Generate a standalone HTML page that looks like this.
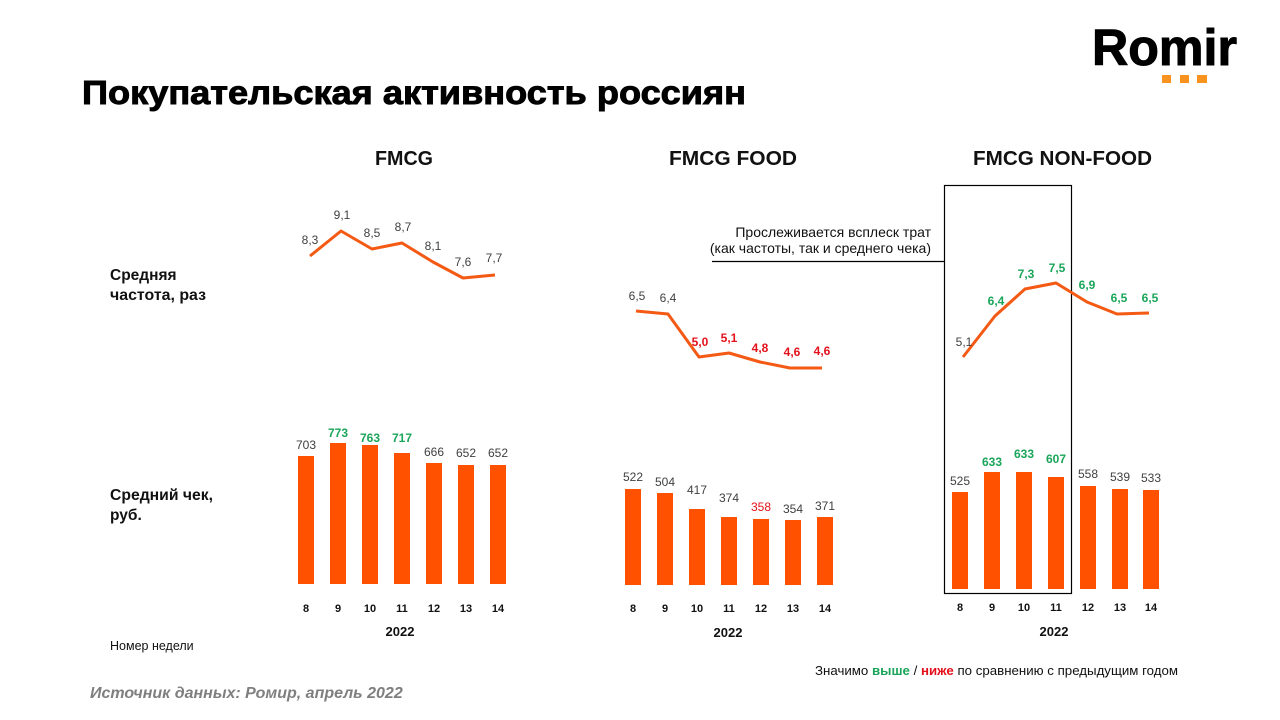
<!DOCTYPE html>
<html><head><meta charset="utf-8">
<style>
html,body{margin:0;padding:0;background:#fff;}
body{width:1280px;height:720px;overflow:hidden;position:relative;font-family:"Liberation Sans","Noto Sans CJK SC",sans-serif;}
svg{position:absolute;left:0;top:0;}
text{font-family:"Liberation Sans","Noto Sans CJK SC",sans-serif;}
.v{font-size:12px;fill:#404040;text-anchor:middle;}
.g{font-size:12px;fill:#1aa55a;font-weight:bold;text-anchor:middle;}
.r{font-size:12px;fill:#e3111b;font-weight:bold;text-anchor:middle;}
.rn{font-size:12px;fill:#e3111b;text-anchor:middle;}
.x{font-size:11px;font-weight:bold;fill:#111;text-anchor:middle;}
.y{font-size:13px;font-weight:bold;fill:#111;text-anchor:middle;}
.h{font-size:20px;font-weight:bold;fill:#111;}
.l{font-size:15.5px;font-weight:bold;fill:#111;}
.b{fill:#ff5100;}
.ln{fill:none;stroke:#f45a14;stroke-width:3;stroke-linejoin:round;}
</style></head><body>
<svg width="1280" height="720" viewBox="0 0 1280 720">
<!-- Logo -->
<text x="1092" y="65" textLength="145" lengthAdjust="spacingAndGlyphs" style="font-size:51px;font-weight:bold;fill:#000;stroke:#000;stroke-width:1px;">Romir</text>
<rect x="1162" y="75" width="9" height="8" fill="#f7931e"/>
<rect x="1180" y="75" width="9" height="8" fill="#f7931e"/>
<rect x="1197" y="75" width="10" height="8" fill="#f7931e"/>
<!-- Title -->
<text x="82" y="104" textLength="664" lengthAdjust="spacingAndGlyphs" style="font-size:33px;font-weight:bold;fill:#000;stroke:#000;stroke-width:0.9px;">Покупательская активность россиян</text>

<!-- Headings -->
<text class="h" x="375" y="165" textLength="58" lengthAdjust="spacingAndGlyphs">FMCG</text>
<text class="h" x="669" y="165" textLength="128" lengthAdjust="spacingAndGlyphs">FMCG FOOD</text>
<text class="h" x="973" y="165" textLength="179" lengthAdjust="spacingAndGlyphs">FMCG NON-FOOD</text>

<!-- Left labels -->
<text class="l" x="110" y="280">Средняя</text>
<text class="l" x="110" y="300" textLength="96" lengthAdjust="spacingAndGlyphs">частота, раз</text>
<text class="l" x="110" y="500" textLength="103" lengthAdjust="spacingAndGlyphs">Средний чек,</text>
<text class="l" x="110" y="520">руб.</text>

<!-- FMCG line -->
<polyline class="ln" points="310,256 341,231 372,249 402,243 433,262 463,278 495,275"/>
<text class="v" x="310" y="244">8,3</text>
<text class="v" x="342" y="219">9,1</text>
<text class="v" x="372" y="237">8,5</text>
<text class="v" x="403" y="231">8,7</text>
<text class="v" x="433" y="250">8,1</text>
<text class="v" x="463" y="266">7,6</text>
<text class="v" x="494" y="262">7,7</text>

<!-- FMCG bars -->
<rect class="b" x="298" y="456" width="16" height="128"/>
<rect class="b" x="330" y="443" width="16" height="141"/>
<rect class="b" x="362" y="445" width="16" height="139"/>
<rect class="b" x="394" y="453" width="16" height="131"/>
<rect class="b" x="426" y="463" width="16" height="121"/>
<rect class="b" x="458" y="465" width="16" height="119"/>
<rect class="b" x="490" y="465" width="16" height="119"/>
<text class="v" x="306" y="449">703</text>
<text class="g" x="338" y="437">773</text>
<text class="g" x="370" y="442">763</text>
<text class="g" x="402" y="442">717</text>
<text class="v" x="434" y="456">666</text>
<text class="v" x="466" y="457">652</text>
<text class="v" x="498" y="457">652</text>
<text class="x" x="306" y="612">8</text>
<text class="x" x="338" y="612">9</text>
<text class="x" x="370" y="612">10</text>
<text class="x" x="402" y="612">11</text>
<text class="x" x="434" y="612">12</text>
<text class="x" x="466" y="612">13</text>
<text class="x" x="498" y="612">14</text>
<text class="y" x="400" y="636">2022</text>

<!-- FOOD line -->
<polyline class="ln" points="636,311 668,314 699,357 729,353 760,362 790,368 822,368"/>
<text class="v" x="637" y="300">6,5</text>
<text class="v" x="668" y="302">6,4</text>
<text class="r" x="700" y="346">5,0</text>
<text class="r" x="729" y="342">5,1</text>
<text class="r" x="760" y="352">4,8</text>
<text class="r" x="792" y="356">4,6</text>
<text class="r" x="822" y="355">4,6</text>

<!-- FOOD bars -->
<rect class="b" x="625" y="489" width="16" height="96"/>
<rect class="b" x="657" y="493" width="16" height="92"/>
<rect class="b" x="689" y="509" width="16" height="76"/>
<rect class="b" x="721" y="517" width="16" height="68"/>
<rect class="b" x="753" y="519" width="16" height="66"/>
<rect class="b" x="785" y="520" width="16" height="65"/>
<rect class="b" x="817" y="517" width="16" height="68"/>
<text class="v" x="633" y="481">522</text>
<text class="v" x="665" y="486">504</text>
<text class="v" x="697" y="494">417</text>
<text class="v" x="729" y="502">374</text>
<text class="rn" x="761" y="511">358</text>
<text class="v" x="793" y="513">354</text>
<text class="v" x="825" y="510">371</text>
<text class="x" x="633" y="612">8</text>
<text class="x" x="665" y="612">9</text>
<text class="x" x="697" y="612">10</text>
<text class="x" x="729" y="612">11</text>
<text class="x" x="761" y="612">12</text>
<text class="x" x="793" y="612">13</text>
<text class="x" x="825" y="612">14</text>
<text class="y" x="728" y="637">2022</text>

<!-- Annotation -->
<text x="931" y="237" style="font-size:14px;fill:#111;text-anchor:end;">Прослеживается всплеск трат</text>
<text x="931" y="253" style="font-size:14px;fill:#111;text-anchor:end;">(как частоты, так и среднего чека)</text>
<line x1="712" y1="261.5" x2="944" y2="261.5" stroke="#000" stroke-width="1.2"/>
<rect x="944.5" y="185.5" width="127" height="408" fill="none" stroke="#000" stroke-width="1.2"/>

<!-- NON-FOOD line -->
<polyline class="ln" points="963,357 995,316 1025,289 1056,283 1087,302 1117,314 1149,313"/>
<text class="v" x="964" y="346">5,1</text>
<text class="g" x="996" y="305">6,4</text>
<text class="g" x="1026" y="278">7,3</text>
<text class="g" x="1057" y="272">7,5</text>
<text class="g" x="1087" y="289">6,9</text>
<text class="g" x="1119" y="302">6,5</text>
<text class="g" x="1150" y="302">6,5</text>

<!-- NON-FOOD bars -->
<rect class="b" x="952" y="492" width="16" height="97"/>
<rect class="b" x="984" y="472" width="16" height="117"/>
<rect class="b" x="1016" y="472" width="16" height="117"/>
<rect class="b" x="1048" y="477" width="16" height="112"/>
<rect class="b" x="1080" y="486" width="16" height="103"/>
<rect class="b" x="1112" y="489" width="16" height="100"/>
<rect class="b" x="1143" y="490" width="16" height="99"/>
<text class="v" x="960" y="485">525</text>
<text class="g" x="992" y="466">633</text>
<text class="g" x="1024" y="458">633</text>
<text class="g" x="1056" y="463">607</text>
<text class="v" x="1088" y="478">558</text>
<text class="v" x="1120" y="481">539</text>
<text class="v" x="1151" y="482">533</text>
<text class="x" x="960" y="611">8</text>
<text class="x" x="992" y="611">9</text>
<text class="x" x="1024" y="611">10</text>
<text class="x" x="1056" y="611">11</text>
<text class="x" x="1088" y="611">12</text>
<text class="x" x="1120" y="611">13</text>
<text class="x" x="1151" y="611">14</text>
<text class="y" x="1054" y="636">2022</text>

<!-- Footer -->
<text x="110" y="650" style="font-size:12.5px;fill:#111;">Номер недели</text>
<text x="815" y="675" textLength="363" lengthAdjust="spacingAndGlyphs" style="font-size:13px;fill:#111;">Значимо <tspan style="fill:#1aa55a;font-weight:bold;">выше</tspan> / <tspan style="fill:#e3111b;font-weight:bold;">ниже</tspan> по сравнению  с предыдущим годом</text>
<text x="90" y="698" style="font-size:16px;font-style:italic;font-weight:bold;fill:#7f7f7f;">Источник данных: Ромир, апрель 2022</text>
</svg>
</body></html>
